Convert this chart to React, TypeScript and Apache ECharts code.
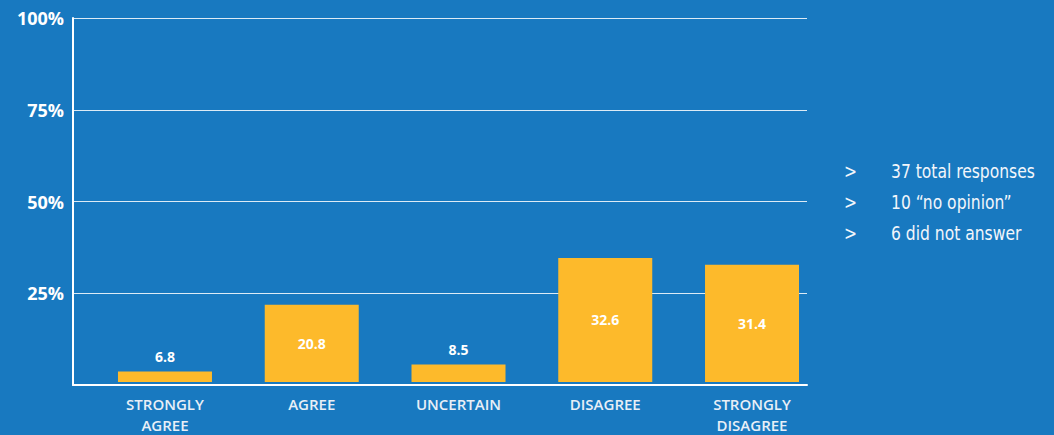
import React, { useEffect, useRef } from "react";
import * as echarts from "echarts";

const categories = ["STRONGLY\nAGREE", "AGREE", "UNCERTAIN", "DISAGREE", "STRONGLY\nDISAGREE"];
// bar heights as drawn in the picture (percent scale)
const barHeights = [2.9, 21.2, 4.8, 34.1, 32.2];
// value labels printed on the bars
const barLabels = ["6.8", "20.8", "8.5", "32.6", "31.4"];
const yTicks = [0, 25, 50, 75, 100];
const notes = ["37 total responses", "10 \u201cno opinion\u201d", "6 did not answer"];

const BG = "#1879c0";
const BAR = "#fdba2b";
const NOTE_FONT = "19px 'Liberation Sans Narrow', 'DejaVu Sans Condensed', sans-serif";

export default function App() {
  const ref = useRef<HTMLDivElement>(null);
  useEffect(() => {
    if (!ref.current) return;
    const chart = echarts.init(ref.current, null, { renderer: "svg" });
    const noteGraphics: any[] = [];
    notes.forEach((t, i) => {
      noteGraphics.push({
        type: "text",
        x: 844,
        y: 171 + i * 31,
        scaleX: 0.91,
        style: { text: ">", fill: "#f2f6fb", font: NOTE_FONT, verticalAlign: "middle" },
      });
      noteGraphics.push({
        type: "text",
        x: 891,
        y: 171 + i * 31,
        scaleX: 0.91,
        style: { text: t, fill: "#f2f6fb", font: NOTE_FONT, verticalAlign: "middle" },
      });
    });
    chart.setOption({
      animation: false,
      backgroundColor: BG,
      grid: [
        { left: 73, right: 247, top: 18, bottom: 50 },
        { left: 91.6, right: 228.6, top: 18, bottom: 50 },
      ],
      xAxis: [
        {
          type: "value",
          gridIndex: 0,
          min: 0,
          max: 1,
          axisLine: { show: true, lineStyle: { color: "#ffffff", width: 2 } },
          axisTick: { show: false },
          axisLabel: { show: false },
          splitLine: { show: false },
        },
        {
          type: "category",
          gridIndex: 1,
          data: categories,
          axisLine: { show: false },
          axisTick: { show: false },
          axisLabel: {
            color: "#e8eff7",
            fontFamily: "'Open Sans', sans-serif",
            fontWeight: 600,
            fontSize: 15,
            lineHeight: 21,
            margin: 11,
            interval: 0,
          },
        },
      ],
      yAxis: [
        {
          type: "value",
          gridIndex: 0,
          min: yTicks[0],
          max: yTicks[yTicks.length - 1],
          interval: 25,
          axisLine: { show: true, lineStyle: { color: "#ffffff", width: 2 } },
          axisTick: { show: false },
          splitLine: { show: true, lineStyle: { color: "rgba(255,255,255,0.85)", width: 1 } },
          axisLabel: {
            color: "#ffffff",
            fontFamily: "'Open Sans', sans-serif",
            fontWeight: "bold",
            fontSize: 18,
            margin: 9,
            formatter: (v: number) => (v === 0 ? "" : v + "%"),
          },
        },
        {
          type: "value",
          gridIndex: 1,
          min: yTicks[0],
          max: yTicks[yTicks.length - 1],
          show: false,
          splitLine: { show: false },
        },
      ],
      series: [
        {
          type: "bar",
          xAxisIndex: 1,
          yAxisIndex: 1,
          barWidth: 94,
          itemStyle: { color: BAR },
          data: barHeights.map((v, i) => ({
            value: v,
            label: {
              show: true,
              position: v < 10 ? "top" : "inside",
              distance: 8,
              formatter: () => barLabels[i],
              color: "#ffffff",
              fontFamily: "'Open Sans', sans-serif",
              fontWeight: "bold",
              fontSize: 14,
            },
          })),
        },
      ],
      graphic: noteGraphics,
    });
    return () => chart.dispose();
  }, []);
  return (
    <div
      ref={ref}
      style={{ position: "fixed", left: 0, top: 0, width: 1054, height: 435 }}
    />
  );
}
